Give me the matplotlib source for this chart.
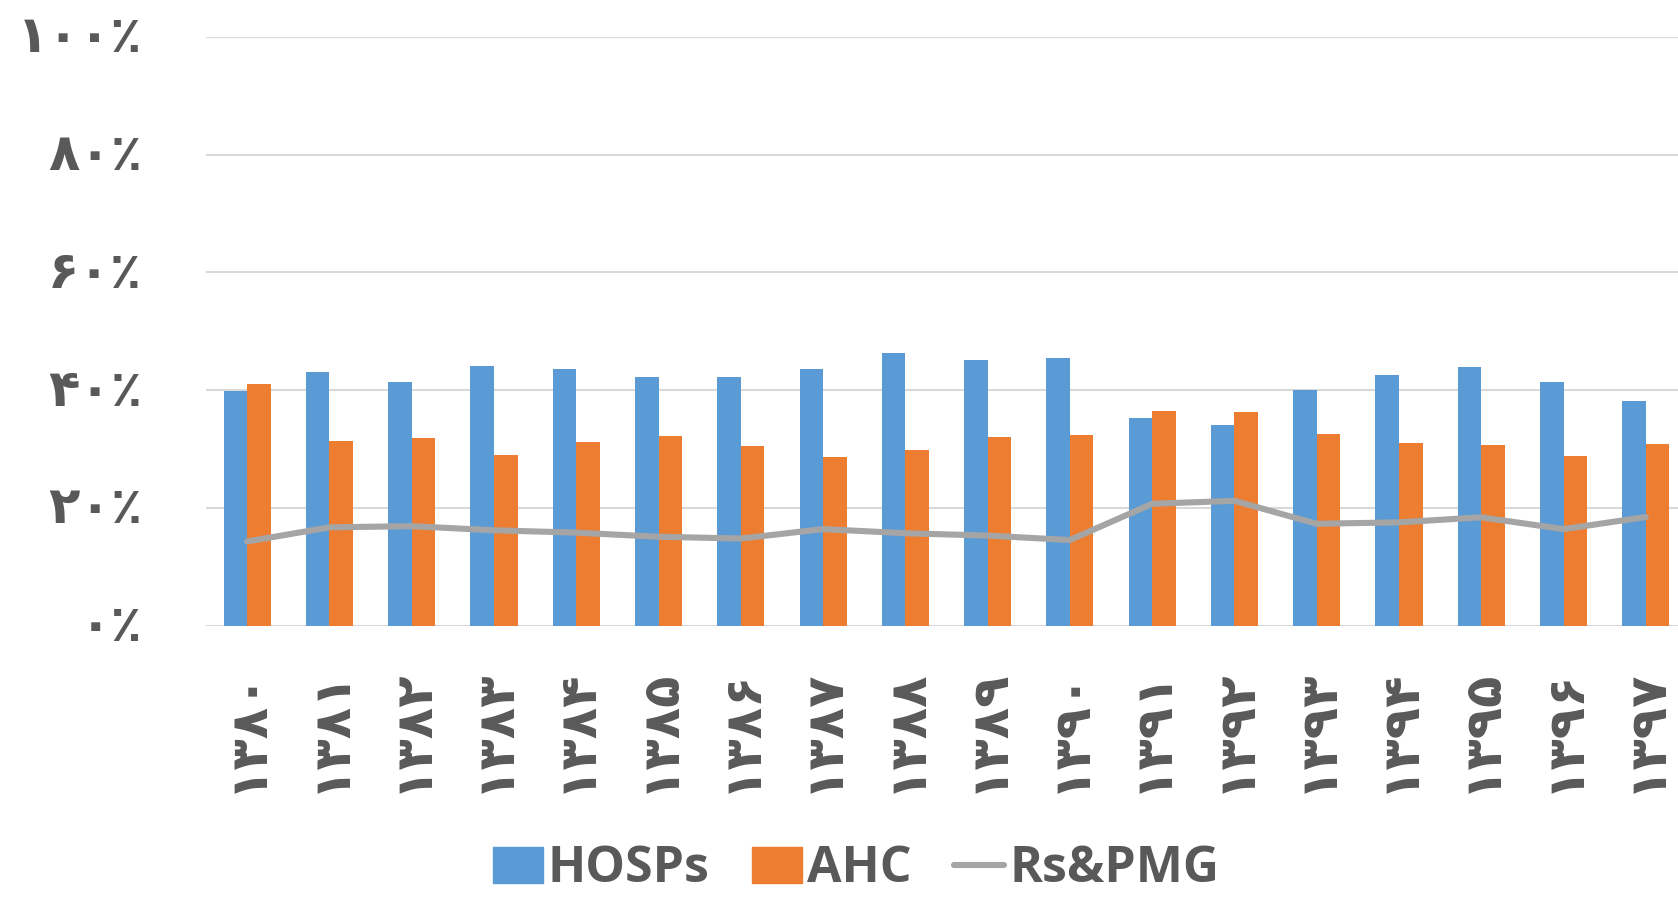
import numpy as np
import matplotlib.pyplot as plt
import matplotlib.transforms as mtransforms
from matplotlib.lines import Line2D
from matplotlib.patches import Patch

# data (percent)
years = ["۱۳۸۰", "۱۳۸۱", "۱۳۸۲", "۱۳۸۳", "۱۳۸۴", "۱۳۸۵", "۱۳۸۶", "۱۳۸۷", "۱۳۸۸",
         "۱۳۸۹", "۱۳۹۰", "۱۳۹۱", "۱۳۹۲", "۱۳۹۳", "۱۳۹۴", "۱۳۹۵", "۱۳۹۶", "۱۳۹۷"]
hosps = [39.9, 43.1, 41.3, 44.1, 43.5, 42.3, 42.3, 43.6, 46.3,
         45.1, 45.5, 35.3, 34.0, 40.0, 42.6, 44.0, 41.3, 38.2]
ahc = [41.0, 31.3, 31.8, 29.0, 31.2, 32.2, 30.5, 28.7, 29.9,
       32.1, 32.4, 36.5, 36.2, 32.6, 31.1, 30.6, 28.8, 30.9]
rs_pmg = [14.3, 16.7, 16.9, 16.2, 15.8, 15.1, 14.8, 16.4, 15.7,
          15.3, 14.55, 20.7, 21.2, 17.3, 17.55, 18.4, 16.4, 18.45]
y_ticks = [0, 20, 40, 60, 80, 100]
y_labels = ["۰٪", "۲۰٪", "۴۰٪", "۶۰٪", "۸۰٪", "۱۰۰٪"]

BLUE = "#5B9BD5"
ORANGE = "#ED7D31"
GRAY = "#A5A5A5"
TEXT = "#595959"
GRID = "#D9D9D9"


def main():
    fig = plt.figure(figsize=(16.78, 8.98), dpi=100)
    ax = fig.add_axes([206 / 1678, 1 - 625.7 / 898, 1481 / 1678, 589 / 898])

    x = np.arange(len(years))
    w = 0.286
    ax.bar(x - w / 2, hosps, w, color=BLUE, zorder=2)
    ax.bar(x + w / 2, ahc, w, color=ORANGE, zorder=2)
    ax.plot(x, rs_pmg, color=GRAY, linewidth=4.4, solid_capstyle="round", zorder=3)

    ax.set_xlim(-0.5, len(years) - 0.5)
    ax.set_ylim(0, 100)
    ax.set_yticks(y_ticks)
    ax.set_yticklabels(y_labels, family=["DejaVu Sans"], fontsize=37,
                       fontweight="bold", color=TEXT)
    ax.set_xticks(x)
    ax.set_xticklabels(years, family=["DejaVu Sans"], fontsize=37, fontweight="bold",
                       color=TEXT, rotation=90, ha="center", va="top")
    ax.tick_params(axis="y", length=0, pad=46)
    ax.tick_params(axis="x", length=0, pad=30)
    # lift the y labels a little, as in the original
    up = mtransforms.ScaledTranslation(0, 4 / 100, fig.dpi_scale_trans)
    for lbl in ax.get_yticklabels():
        lbl.set_transform(lbl.get_transform() + up)
    ax.grid(axis="y", color=GRID, linewidth=1.5)
    ax.set_axisbelow(True)
    for s in ax.spines.values():
        s.set_visible(False)

    handles = [Patch(color=BLUE), Patch(color=ORANGE),
               Line2D([], [], color=GRAY, linewidth=4.4, solid_capstyle="round")]
    leg = fig.legend(handles, ["HOSPs", "AHC", "Rs&PMG"], loc="center",
                     bbox_to_anchor=(0.51, 0.032), ncol=3, frameon=False,
                     prop={"family": "Open Sans", "weight": "bold", "size": 36},
                     handlelength=1.0, handleheight=0.72, handletextpad=0.1,
                     columnspacing=0.85, borderpad=0)
    for t in leg.get_texts():
        t.set_color(TEXT)

    fig.savefig("out.png", dpi=100)
    plt.close(fig)


if __name__ == "__main__":
    main()
